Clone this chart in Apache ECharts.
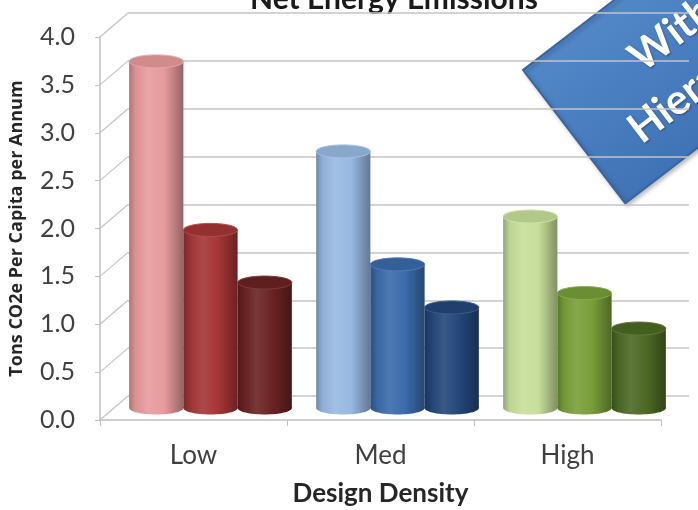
<!DOCTYPE html>
<html>
<head>
<meta charset="utf-8">
<script src="https://cdn.jsdelivr.net/npm/echarts@6/dist/echarts.min.js"></script>
<style>
  html, body { margin: 0; padding: 0; background: #ffffff; }
  #chart { width: 698px; height: 510px; }
</style>
</head>
<body>
<div id="chart"></div>
<script>
// Emissions per capita by design density, three cylinders per group
const categories = ['Low', 'Med', 'High'];
const yTicks = [0, 0.5, 1, 1.5, 2, 2.5, 3, 3.5, 4];
const firstBars  = [3.62, 2.68, 2.0];
const secondBars = [1.86, 1.5, 1.2];
const thirdBars  = [1.31, 1.05, 0.83];

// cylinder colours: one row per category, one column per bar position
const cylinderColors = [
  ['#e79a9b', '#a53535', '#6a2222'],
  ['#98b8e2', '#3a6bab', '#23467a'],
  ['#c6de9a', '#789e38', '#4c6824']
];

const FONT = 'Lato, "Open Sans", sans-serif';
const GRID_LINE = '#c4c4c4';
// depth of the side wall (front axis -> back wall)
const DEPTH_X = 28, DEPTH_Y = -24;

function shade(hex, amt) {
  const n = parseInt(hex.slice(1), 16);
  const ch = [n >> 16, (n >> 8) & 255, n & 255].map(c =>
    amt < 0 ? Math.round(c * (1 + amt)) : Math.round(c + (255 - c) * amt));
  return 'rgb(' + ch.join(',') + ')';
}

function cylinder(pos) {
  return function (params, api) {
    const ci = api.value(0), v = api.value(1);
    const band = api.size([1, 0])[0];
    const groupW = band * 0.87, w = groupW / 3;
    const base = api.coord([ci, 0]);
    const topY = api.coord([ci, v])[1];
    const x0 = base[0] - groupW / 2 + pos * w;
    const cx = x0 + w / 2, ry = w * 0.12;
    const c = cylinderColors[ci][pos];
    const body = new echarts.graphic.LinearGradient(0, 0, 1, 0, [
      { offset: 0, color: shade(c, -0.25) },
      { offset: 0.12, color: shade(c, -0.05) },
      { offset: 0.35, color: shade(c, 0.1) },
      { offset: 0.65, color: c },
      { offset: 1, color: shade(c, -0.35) }
    ]);
    return {
      type: 'group',
      children: [
        { type: 'ellipse', shape: { cx: cx, cy: base[1], rx: w / 2, ry: ry }, style: { fill: body } },
        { type: 'rect', shape: { x: x0, y: topY, width: w, height: base[1] - topY }, style: { fill: body } },
        { type: 'ellipse', shape: { cx: cx, cy: topY, rx: w / 2, ry: ry },
          style: { fill: shade(c, -0.1), stroke: shade(c, 0.12), lineWidth: 1 } }
      ]
    };
  };
}

// diagonal lines of the left side wall, one per y tick
function sideWall(params, api) {
  const v = api.value(0);
  const band = api.size([1, 0])[0];
  const p = api.coord([0, v]);
  const x = p[0] - band / 2;
  return {
    type: 'line',
    shape: { x1: x, y1: p[1], x2: x + DEPTH_X, y2: p[1] + DEPTH_Y },
    style: { stroke: GRID_LINE, lineWidth: 1.2 }
  };
}

const hiddenCat = { type: 'category', data: categories, show: false };
const hiddenVal = { type: 'value', min: 0, max: 4, interval: 0.5, show: false };

const chart = echarts.init(document.getElementById('chart'), null, { renderer: 'canvas' });

chart.setOption({
  backgroundColor: '#ffffff',
  animation: false,
  grid: [
    { left: 100, right: 37, top: 37, bottom: 90, outerBoundsMode: 'none' },   // front plane: axes
    { left: 117, right: 20, top: 25, bottom: 102, outerBoundsMode: 'none' },  // mid depth: cylinders
    { left: 128, right: 9, top: 13, bottom: 114, outerBoundsMode: 'none' }    // back wall: gridlines
  ],
  xAxis: [
    {
      gridIndex: 0, type: 'category', data: categories,
      axisLine: { lineStyle: { color: '#bfbfbf', width: 1.5 } },
      axisTick: { show: true, length: 6, lineStyle: { color: '#bfbfbf' } },
      axisLabel: { color: '#404040', fontSize: 26, fontFamily: FONT, margin: 23 },
      name: 'Design Density', nameLocation: 'middle', nameGap: 61,
      nameTextStyle: { color: '#262626', fontSize: 26, fontWeight: 'bold', fontFamily: FONT }
    },
    Object.assign({ gridIndex: 1 }, hiddenCat),
    {
      gridIndex: 2, type: 'category', data: categories,
      axisLine: { show: false }, axisTick: { show: false }, axisLabel: { show: false }
    }
  ],
  yAxis: [
    {
      gridIndex: 0, type: 'value', min: 0, max: 4, interval: 0.5,
      axisLine: { show: true, lineStyle: { color: '#bfbfbf', width: 1.5 } },
      axisTick: { show: true, length: 5, lineStyle: { color: '#bfbfbf' } },
      axisLabel: { color: '#404040', fontSize: 25, fontFamily: FONT, margin: 25,
                   formatter: v => v.toFixed(1) },
      splitLine: { show: false },
      name: 'Tons CO2e Per Capita per Annum', nameLocation: 'middle', nameGap: 74,
      nameTextStyle: { color: '#262626', fontSize: 18, fontWeight: 'bold',
                       fontFamily: '"Open Sans", Lato, sans-serif' }
    },
    Object.assign({ gridIndex: 1 }, hiddenVal),
    {
      gridIndex: 2, type: 'value', min: 0, max: 4, interval: 0.5,
      axisLine: { show: false }, axisTick: { show: false }, axisLabel: { show: false },
      splitLine: { show: true, lineStyle: { color: GRID_LINE, width: 1.5 } }
    }
  ],
  series: [
    {
      type: 'custom', xAxisIndex: 0, yAxisIndex: 0, renderItem: sideWall,
      data: yTicks.map(v => [v]), encode: { y: 0 }, silent: true, z: 1
    },
    {
      type: 'custom', xAxisIndex: 1, yAxisIndex: 1, renderItem: cylinder(0),
      data: firstBars.map((v, i) => [i, v]), encode: { x: 0, y: 1 }, z: 3
    },
    {
      type: 'custom', xAxisIndex: 1, yAxisIndex: 1, renderItem: cylinder(1),
      data: secondBars.map((v, i) => [i, v]), encode: { x: 0, y: 1 }, z: 4
    },
    {
      type: 'custom', xAxisIndex: 1, yAxisIndex: 1, renderItem: cylinder(2),
      data: thirdBars.map((v, i) => [i, v]), encode: { x: 0, y: 1 }, z: 5
    }
  ],
  graphic: [
    // title box sitting over the top of the plot
    {
      type: 'group', z: 50,
      children: [
        { type: 'rect', shape: { x: 156, y: -5, width: 470, height: 21 }, style: { fill: '#ffffff' } },
        { type: 'text', x: 394, y: 14,
          style: { text: 'Net Energy Emissions', fill: '#1a1a1a', font: 'bold 30px ' + FONT,
                   align: 'center', verticalAlign: 'bottom' } }
      ]
    },
    // rotated blue banner
    {
      type: 'group', x: 523, y: 70, rotation: 37.5 * Math.PI / 180, z: 60,
      children: [
        { type: 'rect', shape: { x: 0, y: 0, width: 300, height: 168 },
          style: {
            fill: new echarts.graphic.LinearGradient(0, 0, 0, 1, [
              { offset: 0, color: '#5287c8' }, { offset: 1, color: '#3f73b6' }
            ]),
            stroke: '#3865a0', lineWidth: 2,
            shadowBlur: 4, shadowColor: 'rgba(0,0,0,0.25)', shadowOffsetX: 2, shadowOffsetY: 2
          } },
        { type: 'text', x: 140, y: 62,
          style: { text: 'With', fill: '#ffffff', font: 'bold 42px ' + FONT,
                   align: 'center', verticalAlign: 'middle',
                   textShadowColor: 'rgba(0,0,0,0.35)', textShadowBlur: 2, textShadowOffsetX: 1, textShadowOffsetY: 1 } },
        { type: 'text', x: 140, y: 118,
          style: { text: 'Hierarchy', fill: '#ffffff', font: 'bold 42px ' + FONT,
                   align: 'center', verticalAlign: 'middle',
                   textShadowColor: 'rgba(0,0,0,0.35)', textShadowBlur: 2, textShadowOffsetX: 1, textShadowOffsetY: 1 } }
      ]
    }
  ]
});
</script>
</body>
</html>
